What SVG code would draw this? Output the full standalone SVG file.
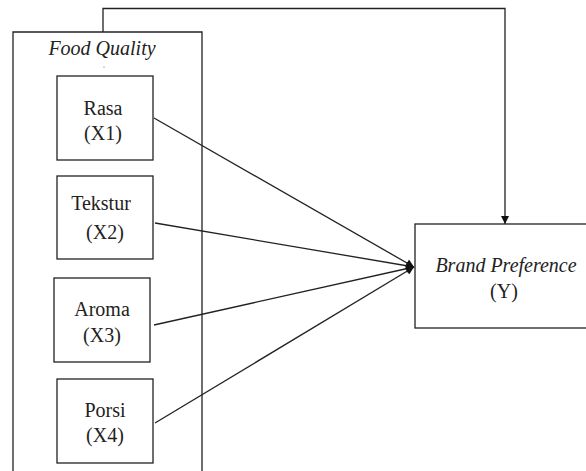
<svg xmlns="http://www.w3.org/2000/svg" width="586" height="471" viewBox="0 0 586 471">
<style>
.box{fill:#fff;stroke:#222;stroke-width:1.3}
.edge{fill:none;stroke:#222;stroke-width:1.3}
text{font-family:'Liberation Serif','Tinos','DejaVu Serif',serif;font-size:20px;fill:#222;text-anchor:middle}
.it{font-style:italic}
</style>
<defs>
<marker id="arr" viewBox="0 0 10 10" refX="10" refY="5" markerWidth="10" markerHeight="8" markerUnits="userSpaceOnUse" orient="auto">
<path d="M0,0 L10,5 L0,10 Z" fill="#111"/>
</marker>
</defs>
<g id="food-quality">
<path class="edge" d="M13,471 V32 H202 V471"/>
<text class="it" x="102" y="55">Food Quality</text>
<circle cx="104" cy="67" r="0.6" fill="#555"/>
</g>
<g id="rasa">
<rect class="box" x="57" y="76" width="96" height="84"/>
<text x="103" y="115">Rasa</text>
<text x="103" y="140">(X1)</text>
</g>
<g id="tekstur">
<rect class="box" x="57" y="176" width="96" height="83"/>
<text x="101" y="210">Tekstur</text>
<text x="105" y="239">(X2)</text>
</g>
<g id="aroma">
<rect class="box" x="54" y="278" width="96" height="84"/>
<text x="102" y="316">Aroma</text>
<text x="102" y="342">(X3)</text>
</g>
<g id="porsi">
<rect class="box" x="57" y="379" width="96" height="84"/>
<text x="105" y="417">Porsi</text>
<text x="105" y="442">(X4)</text>
</g>
<g id="brand-preference">
<rect class="box" x="415" y="224" width="185" height="104"/>
<text class="it" x="506" y="272">Brand Preference</text>
<text x="504" y="298">(Y)</text>
</g>
<g id="connectors">
<line class="edge" x1="154" y1="118" x2="414" y2="267" marker-end="url(#arr)"/>
<line class="edge" x1="155" y1="223" x2="414" y2="267" marker-end="url(#arr)"/>
<line class="edge" x1="154" y1="325" x2="414" y2="267" marker-end="url(#arr)"/>
<line class="edge" x1="155" y1="423" x2="414" y2="267" marker-end="url(#arr)"/>
<polyline class="edge" points="103,32 103,8.5 505,8.5 505,224" marker-end="url(#arr)"/>
</g>
</svg>
